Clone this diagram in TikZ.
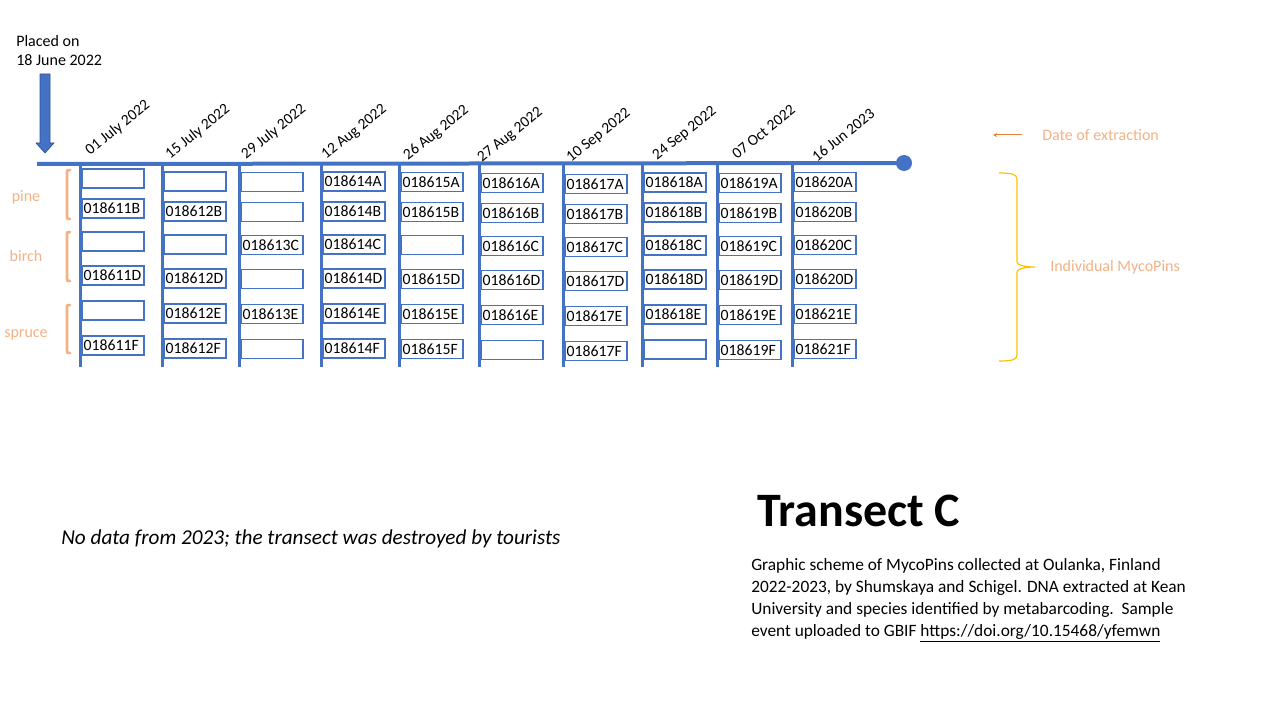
\documentclass[tikz,border=0pt]{standalone}
\usepackage{fontspec}
\setmainfont{Carlito}
\usepackage{tikz}
\usetikzlibrary{arrows.meta, calc}
\definecolor{axisblue}{HTML}{4472C4}
\definecolor{arrowedge}{HTML}{2F528F}
\definecolor{treeorange}{HTML}{F4B183}
\definecolor{noteorange}{HTML}{ED7D31}
\definecolor{bracegold}{HTML}{FFC000}
\tikzstyle{mycopin} = [rectangle,
draw=axisblue, line width=1pt, fill=white,
minimum width=46pt, minimum height=14.25pt,
text width=44.5pt, align=left,
inner xsep=0.75pt, inner ysep=0pt, anchor=west,
font=\fontsize{11.8}{13}\selectfont]
\tikzstyle{datetag} = [rotate=39, anchor=base west, inner sep=0pt,
font=\fontsize{11.6}{14}\selectfont]
\tikzstyle{treetag} = [anchor=base, inner sep=0pt, text=treeorange,
font=\fontsize{12}{14}\selectfont]
\tikzstyle{plain} = [anchor=base west, inner sep=0pt,
font=\fontsize{12}{14}\selectfont]
\tikzstyle{stem} = [axisblue, line width=2.25pt]
\tikzstyle{axisline} = [axisblue, line width=3pt]
\tikzstyle{treebracket} = [treeorange, line width=2pt, line cap=round]
\tikzstyle{arrow} = [noteorange, line width=0.75pt, -{Stealth[length=3pt,width=3pt]}]

\begin{document}
\begin{tikzpicture}[x=0.75pt, y=-0.75pt]
\useasboundingbox (0,0) rectangle (1280,720);

% placed on
\node (placed-1) [plain] at (16,47) {Placed on};
\node (placed-2) [plain] at (16,66) {18 June 2022};
\filldraw [fill=axisblue, draw=arrowedge, line width=0.5pt]
  (40,74) -- (50,74) -- (50,143) -- (54,143) -- (45,153) -- (36,143) -- (40,143) -- cycle;

% timeline
\coordinate (axis-start) at (37,164);
\node (axis-end) [circle, fill=axisblue, inner sep=0pt, minimum size=12pt] at (904,163) {};
\draw [axisline] (axis-start) -- (axis-end.center);

% dates of extraction
\foreach \d/\px/\py/\t in {1/90/156/01 July 2022, 2/170/160/15 July 2022,
  3/246/160/29 July 2022, 4/326/160/12 Aug 2022, 5/408/161/26 Aug 2022,
  6/482/163/27 Aug 2022, 7/571/163/10 Sep 2022, 8/657/161/24 Sep 2022,
  9/737/160/07 Oct 2022, 10/817/163/16 Jun 2023}
  \node (date-\d) [datetag] at (\px,\py) {\t};

% columns of mycopins
\foreach \col/\lx/\dy/\pa/\pb/\pc/\pd/\pe/\pf in {
  1/80/-2.5/{}/018611B/{}/018611D/{}/018611F,
  2/162/0.5/{}/018612B/{}/018612D/018612E/018612F,
  3/239/1/{}/{}/018613C/{}/018613E/{},
  4/321/0.5/018614A/018614B/018614C/018614D/018614E/018614F,
  5/399/1/018615A/018615B/{}/018615D/018615E/018615F,
  6/479/2/018616A/018616B/018616C/018616D/018616E/{},
  7/563/3/018617A/018617B/018617C/018617D/018617E/018617F,
  8/642/1.5/018618A/018618B/018618C/018618D/018618E/{},
  9/717/2/018619A/018619B/018619C/018619D/018619E/018619F,
  10/792/1/018620A/018620B/018620C/018620D/018621E/018621F}
{
  \coordinate (top-\col) at (\lx,164);
  \coordinate (foot-\col) at (\lx,367);
  \draw [stem] (top-\col) -- (foot-\col);
  \foreach \row/\ry/\txt in {A/181/\pa, B/211/\pb, C/244/\pc, D/278/\pd, E/313/\pe, F/348/\pf}
    \node (pin-\col-\row) [mycopin] at (\lx+2,\ry+\dy) {\txt};
}

% tree species
\foreach \tree/\ya/\yb/\ty in {pine/170/219/202, birch/232/281/262, spruce/305/353/337}
{
  \node (tree-\tree) [treetag] at (26,\ty) {\tree};
  \draw [treebracket] (70,\ya) .. controls (67,\ya) .. (67,\ya+4) -- (67,\yb-4) .. controls (67,\yb) .. (70,\yb);
}

% legend
\node (extraction-note) [plain, text=treeorange] at (1042,141) {Date of extraction};
\coordinate (extraction-tail) at (1022,135);
\coordinate (extraction-tip) at (993,135);
\draw [arrow] (extraction-tail) -- (extraction-tip);

\node (pins-note) [plain, text=treeorange] at (1050,272) {Individual MycoPins};
\draw [bracegold, line width=0.9pt] (999,173) .. controls (1011,173) and (1017,174) .. (1017,179)
  -- (1017,262) .. controls (1017,265) and (1024,267) .. (1035,267)
  .. controls (1024,267) and (1017,269) .. (1017,272)
  -- (1017,355) .. controls (1017,360) and (1011,361) .. (999,361);

% notes
\node (no-data) [plain, font=\fontsize{15.9}{18}\itshape] at (61,544) {No data from 2023; the transect was destroyed by tourists};
\node (title) [plain, font=\fontsize{36}{40}\bfseries] at (757,526) {Transect C};
\node (caption) [anchor=north west, inner sep=0pt, align=left,
  font=\fontsize{13}{16.5}\selectfont] at (751,558)
  {Graphic scheme of MycoPins collected at Oulanka, Finland\\
   2022-2023, by Shumskaya and Schigel. DNA extracted at Kean\\
   University and species identified by metabarcoding.\ \ Sample\\
   event uploaded to GBIF \underline{https://doi.org/10.15468/yfemwn}};
\end{tikzpicture}
\end{document}
